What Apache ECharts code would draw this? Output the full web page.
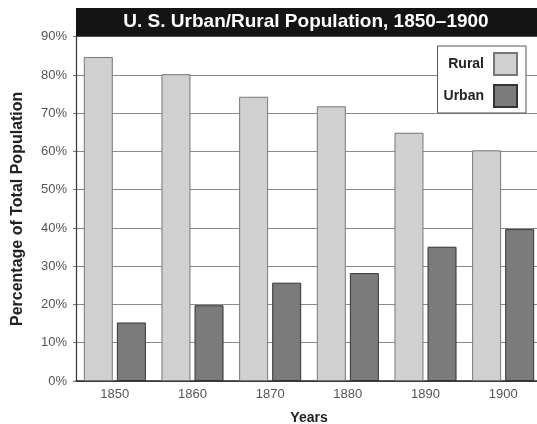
<!DOCTYPE html>
<html><head><meta charset="utf-8">
<script src="https://cdn.jsdelivr.net/npm/echarts@6/dist/echarts.min.js"></script>
<style>html,body{margin:0;padding:0;background:#fff}#c{width:537px;height:424px}</style>
</head><body><div id="c"></div>
<script>
const years = ['1850','1860','1870','1880','1890','1900'];
const rural = [84.7, 80.2, 74.3, 71.8, 64.9, 60.3];
const urban = [15.3, 19.8, 25.7, 28.2, 35.1, 39.7];
const titleText = 'U. S. Urban/Rural Population, 1850\u20131900';

const chart = echarts.init(document.getElementById('c'));
chart.setOption({
  animation: false,
  backgroundColor: '#fff',
  textStyle: { fontFamily: 'Liberation Sans, Arial, sans-serif' },
  graphic: [
    { type: 'rect', shape: { x: 76, y: 8, width: 470, height: 28.5 }, style: { fill: '#141414' }, z: 10 },
    { type: 'text', x: 306, y: 22, z: 11, style: { text: titleText, fill: '#fff', font: 'bold 19px Liberation Sans, Arial, sans-serif', textAlign: 'center', textVerticalAlign: 'middle' } }
  ],
  legend: {
    orient: 'vertical',
    right: 11, top: 46,
    align: 'right',
    itemWidth: 23, itemHeight: 22, itemGap: 8,
    padding: [6, 8, 5, 6],
    borderColor: '#555', borderWidth: 1, backgroundColor: '#fff',
    textStyle: { fontWeight: 'bold', fontSize: 14, color: '#222', padding: [0, 5, 0, 0] },
    data: [{ name: 'Rural', icon: 'rect' }, { name: 'Urban', icon: 'rect' }]
  },
  grid: { left: 76, top: 36.7, width: 466, height: 344.3, containLabel: false, outerBoundsMode: 'none' },
  xAxis: {
    type: 'category', data: years,
    name: 'Years', nameLocation: 'middle', nameGap: 30,
    nameTextStyle: { fontWeight: 'bold', fontSize: 14, color: '#222' },
    axisLine: { lineStyle: { color: '#222', width: 1.5 } },
    axisTick: { show: false },
    axisLabel: { color: '#555', fontSize: 13, margin: 7 },
    splitLine: { show: false }
  },
  yAxis: {
    type: 'value', min: 0, max: 90, interval: 10,
    name: 'Percentage of Total Population', nameLocation: 'middle', nameGap: 50,
    nameTextStyle: { fontWeight: 'bold', fontSize: 16, color: '#222' },
    axisLine: { show: true, lineStyle: { color: '#333', width: 1.2 } },
    axisTick: { show: true, length: 3, lineStyle: { color: '#777' } },
    axisLabel: { color: '#555', fontSize: 13, margin: 9, formatter: '{value}%' },
    splitLine: { lineStyle: { color: '#8a8a8a', width: 1 } }
  },
  series: [
    { name: 'Rural', type: 'bar', data: rural, barWidth: 29, barGap: '14%',
      itemStyle: { color: '#d0d0d0', borderColor: '#777', borderWidth: 1 } },
    { name: 'Urban', type: 'bar', data: urban, barWidth: 29,
      itemStyle: { color: '#7b7b7b', borderColor: '#333', borderWidth: 1 } }
  ]
});
</script></body></html>
